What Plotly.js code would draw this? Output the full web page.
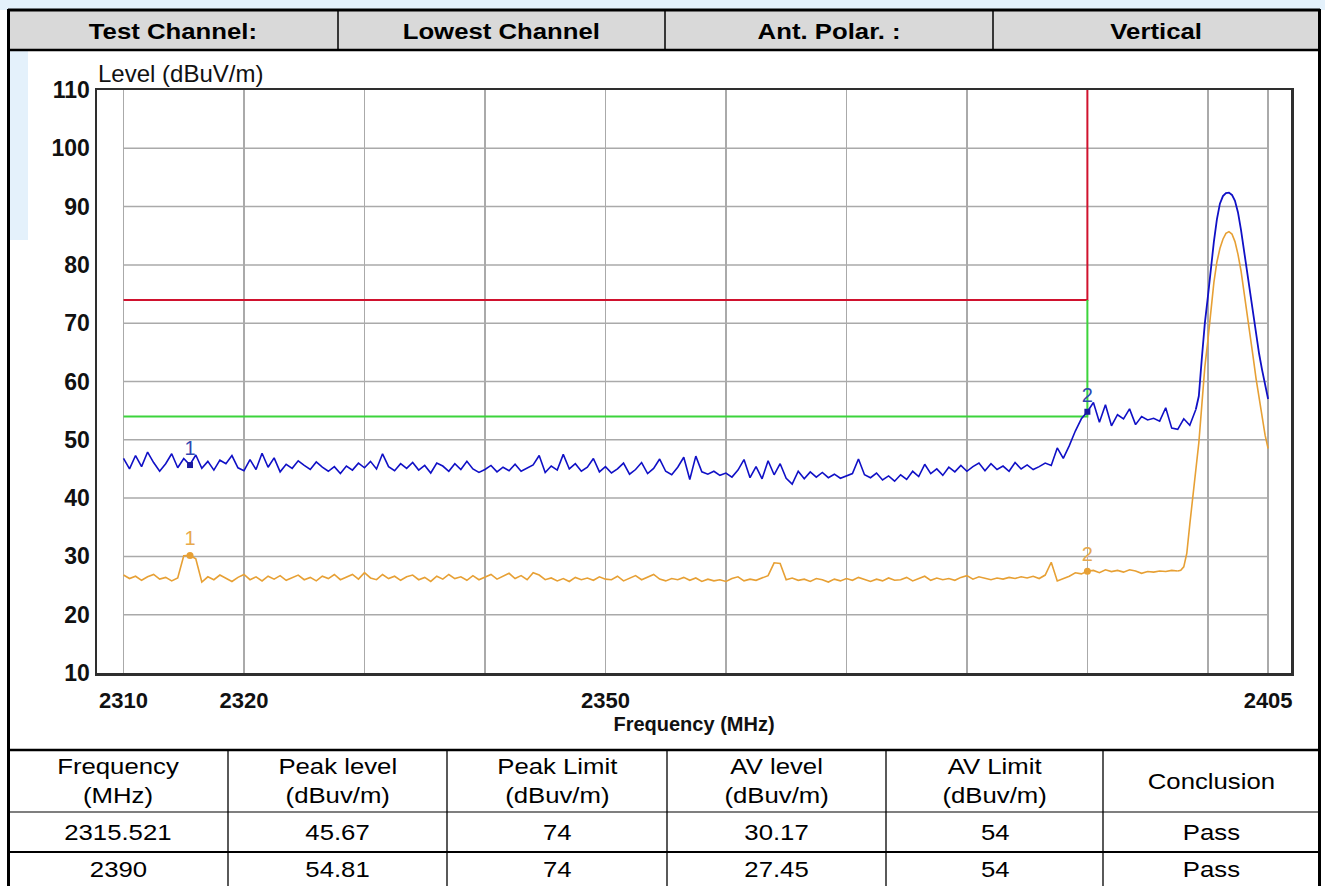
<!DOCTYPE html>
<html>
<head>
<meta charset="utf-8">
<script src="https://cdn.plot.ly/plotly-3.0.1.min.js"></script>
<style>
html,body{margin:0;padding:0;background:#ffffff;}
#chart{width:1325px;height:886px;}
</style>
</head>
<body>
<div id="chart"></div>
<script>
// ---------------- data ----------------
const SWEEP_START = 2310;
const SWEEP_STOP = 2405;
const SWEEP_STEP = 0.5;

// Peak detector trace (dBuV/m), 2310 .. 2399 MHz every 0.5 MHz
const peakLevel = [
  46.8, 45.0, 47.3, 45.4, 47.9, 46.1, 44.6, 45.9, 47.6, 45.2, 46.8, 45.7, 47.4, 45.1, 46.3, 44.8, 46.5, 45.9, 47.3, 45.2,
  44.7, 46.6, 44.9, 47.7, 45.3, 46.9, 44.5, 45.8, 45.1, 46.4, 45.6, 44.9, 46.2, 45.3, 44.6, 45.4, 44.2, 45.5, 44.8, 46.0,
  45.2, 46.3, 45.0, 47.6, 45.4, 44.7, 45.9, 45.1, 46.1, 44.8, 45.6, 44.3, 46.0, 45.5, 44.6, 45.9, 44.9, 46.3, 45.0, 44.4,
  44.9, 45.6, 44.5, 45.3, 44.7, 45.8, 44.6, 45.2, 45.7, 47.3, 44.4, 45.5, 44.8, 47.5, 45.0, 45.9, 44.6, 45.3, 46.8, 44.5,
  45.4, 44.3, 45.0, 46.0, 44.1, 44.9, 46.1, 44.2, 45.1, 46.7, 44.6, 44.0, 45.3, 47.0, 43.2, 47.2, 44.5, 44.1, 44.6, 43.9,
  44.3, 43.6, 44.8, 46.6, 43.5, 45.4, 43.3, 46.4, 44.0, 45.9, 43.4, 42.4, 44.6, 43.3, 44.5, 43.6, 44.4, 43.5, 44.1, 43.4,
  43.8, 44.2, 46.7, 44.0, 43.5, 44.3, 43.1, 43.8, 42.9, 44.0, 43.2, 44.6, 43.7, 45.8, 44.2, 45.0, 43.9, 45.3, 44.5, 45.6,
  44.6, 45.4, 46.0, 44.7, 45.9, 44.9, 45.5, 44.6, 46.1, 45.0, 45.7, 44.9, 45.4, 46.0, 45.6, 48.6, 46.8, 49.0, 51.5, 53.6,
  54.81, 56.4, 53.0, 56.0, 52.4, 54.3, 53.6, 55.3, 52.6, 54.0, 53.4, 53.7, 53.2, 55.5, 52.0, 51.8, 53.6, 52.5, 55.2
];
// Peak trace around the carrier, 2399 .. 2405 MHz every 0.25 MHz
const PEAK_TAIL_START = 2399;
const TAIL_STEP = 0.25;
const peakTail = [
  55.2, 57.5, 64.0, 70.0, 74.5, 79.5, 84.0, 87.8, 90.5, 91.8, 92.3, 92.4, 92.0, 91.0, 89.0, 86.0,
  82.5, 78.8, 75.0, 71.3, 68.0, 64.8, 62.0, 59.3, 57.0
];

// Average detector trace (dBuV/m), 2310 .. 2397.5 MHz every 0.5 MHz
const avLevel = [
  26.8, 26.2, 26.6, 25.9, 26.5, 26.9, 26.1, 26.4, 25.8, 26.3, 30.1, 30.17, 29.6, 25.6, 26.5, 26.0, 26.8, 26.2, 25.7, 26.4,
  26.9, 26.0, 26.5, 25.8, 26.6, 26.1, 26.7, 25.9, 26.3, 26.8, 26.0, 26.4, 25.8, 26.6, 26.2, 26.9, 26.0, 26.5, 26.9, 26.1,
  27.2, 26.3, 26.0, 26.9, 26.2, 26.6, 25.9, 26.5, 26.8, 26.0, 26.4, 25.7, 26.6, 26.1, 26.9, 26.2, 26.5, 25.9, 26.7, 26.0,
  26.4, 26.9, 26.1, 26.6, 27.1, 26.2, 26.7, 26.0, 27.2, 26.8, 26.0, 26.3, 25.8, 26.2, 25.7, 26.4, 26.0, 26.3, 25.9, 26.5,
  26.1, 26.0, 26.6, 25.8, 26.3, 26.7, 26.0, 26.4, 26.9, 26.1, 25.8, 26.2, 26.0, 26.4, 25.9, 26.3, 25.7, 26.1, 25.8, 26.0,
  25.7, 26.2, 26.5, 25.8, 26.1, 25.9, 26.3, 26.7, 28.9, 28.8, 26.0, 26.3, 25.9, 26.1, 25.7, 26.2, 26.0, 25.6, 26.1, 25.8,
  26.2, 25.9, 26.4, 26.0, 25.7, 26.1, 25.8, 26.3, 25.9, 26.0, 26.4, 25.8, 26.2, 26.6, 25.9, 26.3, 26.0, 26.2, 25.9, 26.4,
  26.7, 26.1, 26.5, 26.2, 26.0, 26.3, 26.1, 26.4, 26.2, 26.5, 26.3, 26.6, 26.2, 26.8, 29.0, 25.8, 26.2, 26.6, 27.2, 27.0,
  27.45, 27.6, 27.2, 27.7, 27.4, 27.6, 27.3, 27.7, 27.5, 27.1, 27.4, 27.3, 27.5, 27.4, 27.6, 27.5
];
// Average trace around the carrier, 2397.5 .. 2405 MHz every 0.25 MHz
const AV_TAIL_START = 2397.5;
const avTail = [
  27.5, 27.6, 28.2, 30.5, 35.5, 40.5, 44.8, 49.5, 56.0, 62.5, 67.0, 72.5, 77.0, 80.5, 82.8, 84.4,
  85.4, 85.7, 85.3, 84.0, 81.8, 79.0, 75.5, 71.8, 68.0, 64.3, 60.5, 57.2, 53.8, 50.8, 48.5
];

// Limit lines
const limitFreq = [2310, 2390, 2390];
const peakLimit = [74, 74, 110];
const avLimit = [54, 54, 74];

// Markers
const markerFreq = [2315.521, 2390];
const markerPeak = [45.67, 54.81];
const markerAV = [30.17, 27.45];
const markerLabels = ['1', '2'];

// Axes ticks
const xTickVals = [2310, 2320, 2330, 2340, 2350, 2360, 2370, 2380, 2390, 2400, 2405];
const xTickText = ['2310', '2320', '', '', '2350', '', '', '', '', '', '2405'];
const yTickVals = [10, 20, 30, 40, 50, 60, 70, 80, 90, 100, 110];

// Tables
const headerCells = ['Test Channel:', 'Lowest Channel', 'Ant. Polar. :', 'Vertical'];
const tableColumns = ['Frequency<br>(MHz)', 'Peak level<br>(dBuv/m)', 'Peak Limit<br>(dBuv/m)',
                      'AV level<br>(dBuv/m)', 'AV Limit<br>(dBuv/m)', 'Conclusion'];
const tableRows = [
  ['2315.521', '45.67', '74', '30.17', '54', 'Pass'],
  ['2390', '54.81', '74', '27.45', '54', 'Pass']
];

// ---------------- layout helpers ----------------
const W = 1325, H = 886;
const px = x => x / W;
const py = y => 1 - y / H;
const FONT = 'Liberation Sans, Arial, Helvetica, sans-serif';

const BLUE = '#1010c6';
const ORANGE = '#e7a034';
const GREEN = '#3cd43c';
const RED = '#d0122e';
const GRID = '#aaaaaa';

const traces = [
  {x: limitFreq, y: peakLimit, mode: 'lines', line: {color: RED, width: 2}},
  {x: limitFreq, y: avLimit, mode: 'lines', line: {color: GREEN, width: 2}},
  {y: avLevel, x0: SWEEP_START, dx: SWEEP_STEP, mode: 'lines', line: {color: ORANGE, width: 1.6}},
  {y: avTail, x0: AV_TAIL_START, dx: TAIL_STEP, mode: 'lines', line: {color: ORANGE, width: 1.6}},
  {y: peakLevel, x0: SWEEP_START, dx: SWEEP_STEP, mode: 'lines', line: {color: BLUE, width: 1.6}},
  {y: peakTail, x0: PEAK_TAIL_START, dx: TAIL_STEP, mode: 'lines', line: {color: BLUE, width: 1.8}},
  {x: markerFreq, y: markerAV, mode: 'markers+text', text: markerLabels, textposition: 'top center',
   textfont: {family: FONT, size: 20, color: '#e8a94c'}, marker: {color: ORANGE, size: 7}},
  {x: markerFreq, y: markerPeak, mode: 'markers+text', text: markerLabels, textposition: 'top center',
   textfont: {family: FONT, size: 20, color: '#3047b0'}, marker: {color: '#1a1aa0', size: 6, symbol: 'square'}}
];

const shapes = [];
const annotations = [];
const line = (x0, y0, x1, y1, w, c) => shapes.push({type: 'line', xref: 'paper', yref: 'paper',
  x0: px(x0), y0: py(y0), x1: px(x1), y1: py(y1), line: {color: c || '#000', width: w}, layer: 'above'});

// faint watermark background
shapes.push({type: 'rect', xref: 'paper', yref: 'paper', x0: 0, x1: 1, y0: py(10), y1: 1,
  fillcolor: '#e4f1fb', line: {width: 0}, layer: 'below'});
shapes.push({type: 'rect', xref: 'paper', yref: 'paper', x0: px(10), x1: px(28), y0: py(240), y1: py(50),
  fillcolor: '#e4f1fb', line: {width: 0}, layer: 'below'});
// header fill
shapes.push({type: 'rect', xref: 'paper', yref: 'paper', x0: px(8), x1: px(1320), y0: py(50), y1: py(10),
  fillcolor: '#d9d9d9', line: {width: 0}, layer: 'below'});

// horizontal grid (only over the sweep span)
yTickVals.filter(v => v > yTickVals[0] && v < yTickVals[yTickVals.length - 1]).forEach(v => {
  shapes.push({type: 'line', xref: 'x', yref: 'y', x0: SWEEP_START, x1: SWEEP_STOP, y0: v, y1: v,
    line: {color: GRID, width: 1.5}, layer: 'below'});
});

// header table
line(8, 10, 1320, 10, 3);
line(8, 50, 1320, 50, 2.5);
[338, 665, 993].forEach(x => line(x, 10, x, 50, 1.5));
// outer frame
line(8.5, 9, 8.5, 886, 3);
line(1319.5, 9, 1319.5, 886, 3);
// bottom table
line(8, 750, 1320, 750, 2.5);
line(8, 812, 1320, 812, 1.2);
line(8, 852, 1320, 852, 2.2);
[228, 447, 667, 886, 1103].forEach(x => line(x, 750, x, 886, 1.3));

const tableAnn = [];
const hdrCenters = [173, 501, 829, 1156];
headerCells.forEach((t, i) => {
  tableAnn.push(annotations.length);
  annotations.push({xref: 'paper', yref: 'paper', x: px(hdrCenters[i]), y: py(31), text: t, showarrow: false,
    xanchor: 'center', yanchor: 'middle', font: {family: FONT, size: 22, weight: 'bold', color: '#000'}});
});
const colCenters = [118, 337.5, 557, 776.5, 994.5, 1211.5];
tableColumns.forEach((t, i) => {
  tableAnn.push(annotations.length);
  annotations.push({xref: 'paper', yref: 'paper', x: px(colCenters[i]), y: py(781), text: t, showarrow: false,
    xanchor: 'center', yanchor: 'middle', font: {family: FONT, size: 22, color: '#000'}});
});
const rowCenters = [832, 869];
tableRows.forEach((row, r) => row.forEach((t, i) => {
  tableAnn.push(annotations.length);
  annotations.push({xref: 'paper', yref: 'paper', x: px(colCenters[i]), y: py(rowCenters[r]), text: t, showarrow: false,
    xanchor: 'center', yanchor: 'middle', font: {family: FONT, size: 22, color: '#000'}});
}));

// y-axis title (horizontal, top left)
annotations.push({xref: 'paper', yref: 'paper', x: px(96), y: py(73), text: 'Level (dBuV/m)', showarrow: false,
  xanchor: 'left', yanchor: 'middle', font: {family: FONT, size: 24, color: '#111'}});

const layout = {
  width: W, height: H,
  margin: {l: 0, r: 0, t: 0, b: 0, pad: 0},
  paper_bgcolor: '#ffffff', plot_bgcolor: '#ffffff',
  showlegend: false, hovermode: false,
  xaxis: {
    domain: [px(97), px(1291)], range: [2307.8, 2406.9],
    tickmode: 'array', tickvals: xTickVals, ticktext: xTickText,
    showgrid: true, gridcolor: GRID, gridwidth: 1.5, zeroline: false,
    showline: true, mirror: true, linecolor: '#2e2e2e', linewidth: 2.5,
    ticks: '', ticklabelstandoff: 6,
    tickfont: {family: FONT, size: 22, weight: 'bold', color: '#111'},
    title: {text: 'Frequency (MHz)', standoff: 2, font: {family: FONT, size: 20, weight: 'bold', color: '#111'}}
  },
  yaxis: {
    domain: [py(673), py(90)], range: [10, 110],
    tickmode: 'array', tickvals: yTickVals,
    showgrid: false, zeroline: false,
    showline: true, mirror: true, linecolor: '#2e2e2e', linewidth: 2.5,
    ticks: '', ticklabelstandoff: 0,
    tickfont: {family: FONT, size: 23, weight: 'bold', color: '#111'}
  },
  shapes: shapes,
  annotations: annotations
};

function stretchTable() {
  tableAnn.forEach(i => {
    const t = document.querySelector('#chart .annotation[data-index="' + i + '"] text.annotation-text');
    if (t) {
      t.style.transformBox = 'fill-box';
      t.style.transformOrigin = 'center';
      t.style.transform = 'scaleX(1.17)';
    }
  });
}

Plotly.newPlot('chart', traces, layout, {staticPlot: true, displayModeBar: false}).then(gd => {
  stretchTable();
  gd.on('plotly_afterplot', stretchTable);
});
</script>
</body>
</html>
